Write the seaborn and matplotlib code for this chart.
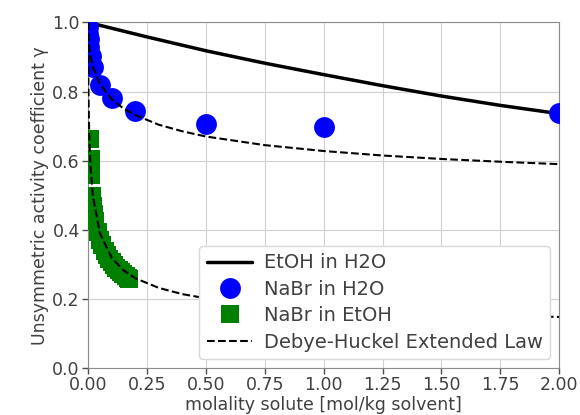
import numpy as np
import matplotlib
matplotlib.use("Agg")
import matplotlib.pyplot as plt
import seaborn as sns

# EtOH in water (model curve)
etoh_m = [0.0, 0.25, 0.5, 0.75, 1.0, 1.25, 1.5, 1.75, 2.0]
etoh_g = [1.0, 0.958, 0.918, 0.882, 0.849, 0.817, 0.787, 0.760, 0.736]

# NaBr in water (data)
nabr_w_m = [0.0001, 0.001, 0.002, 0.005, 0.01, 0.02, 0.05, 0.1, 0.2, 0.5, 1.0, 2.0]
nabr_w_g = [0.988, 0.966, 0.952, 0.928, 0.903, 0.872, 0.820, 0.781, 0.745, 0.706, 0.698, 0.737]

# NaBr in ethanol (data)
nabr_e_m = [0.008, 0.010, 0.012, 0.015, 0.020, 0.025, 0.030, 0.040, 0.050, 0.060,
            0.070, 0.080, 0.090, 0.100, 0.110, 0.120, 0.130, 0.140, 0.150, 0.160,
            0.170, 0.175]
nabr_e_g = [0.663, 0.606, 0.560, 0.499, 0.470, 0.445, 0.425, 0.395, 0.372, 0.355,
            0.340, 0.327, 0.316, 0.306, 0.298, 0.290, 0.283, 0.277, 0.271, 0.266,
            0.261, 0.258]

# Debye-Huckel extended law curves
dh_m = [0.0, 0.001, 0.002, 0.005, 0.01, 0.02, 0.05, 0.1, 0.15, 0.2, 0.3, 0.4, 0.5,
        0.75, 1.0, 1.25, 1.5, 1.75, 2.0]
dh_w_g = [1.0, 0.965, 0.951, 0.928, 0.903, 0.872, 0.822, 0.778, 0.751, 0.732, 0.704,
          0.685, 0.670, 0.645, 0.628, 0.615, 0.605, 0.597, 0.590]
dh_e_g = [1.0, 0.817, 0.759, 0.664, 0.582, 0.498, 0.390, 0.319, 0.283, 0.260, 0.232,
          0.214, 0.202, 0.182, 0.171, 0.163, 0.157, 0.152, 0.148]

sns.set_style("whitegrid", {"axes.edgecolor": "0.55", "grid.color": "0.82",
                            "xtick.bottom": True, "ytick.left": True,
                            "xtick.color": "0.3", "ytick.color": "0.3"})
plt.rcParams["font.family"] = ["DejaVu Sans"]

fig, ax = plt.subplots(figsize=(5.8, 4.15), dpi=100)
fig.subplots_adjust(left=0.152, right=0.964, top=0.946, bottom=0.113)

sns.lineplot(x=etoh_m, y=etoh_g, color="black", linewidth=2.5, sort=False,
             estimator=None, label="EtOH in H2O", ax=ax, zorder=2)
# markers drawn as lines without segments so they get cut at the axes edges
sns.lineplot(x=nabr_w_m, y=nabr_w_g, color="blue", marker="o", markersize=15,
             markeredgewidth=0, linestyle="none", sort=False, estimator=None,
             label="NaBr in H2O", ax=ax, zorder=3)
sns.lineplot(x=nabr_e_m, y=nabr_e_g, color="green", marker="s", markersize=12.8,
             markeredgewidth=0, linestyle="none", sort=False, estimator=None,
             label="NaBr in EtOH", ax=ax, zorder=3)
sns.lineplot(x=dh_m, y=dh_w_g, color="black", linestyle="--", linewidth=1.5,
             sort=False, estimator=None, label="Debye-Huckel Extended Law", ax=ax, zorder=4)
sns.lineplot(x=dh_m, y=dh_e_g, color="black", linestyle="--", linewidth=1.5,
             sort=False, estimator=None, label="_dh2", ax=ax, zorder=4)

ax.set_xlim(0, 2)
ax.set_ylim(0, 1)
ax.set_xticks(np.arange(0, 2.01, 0.25))
ax.set_yticks(np.arange(0, 1.01, 0.2))
ax.tick_params(length=4, width=1, labelsize=12.5, pad=2)
ax.set_xlabel("molality solute [mol/kg solvent]", fontsize=12.5, labelpad=1, color="0.25")
ax.set_ylabel("Unsymmetric activity coefficient γ", fontsize=12.5, labelpad=2, color="0.25")
for lab in ax.get_xticklabels() + ax.get_yticklabels():
    lab.set_color("0.25")

h, l = ax.get_legend_handles_labels()
keep = [i for i, t in enumerate(l) if not t.startswith("_")]
leg = ax.legend([h[i] for i in keep], [l[i] for i in keep], loc="lower right",
                fontsize=14, framealpha=1, handlelength=2.3, handletextpad=0.6,
                borderpad=0.4, labelspacing=0.38, borderaxespad=0.45, frameon=True)
leg.get_frame().set_edgecolor("0.85")
for t in leg.get_texts():
    t.set_color("0.25")

fig.savefig("out.png", dpi=100)
